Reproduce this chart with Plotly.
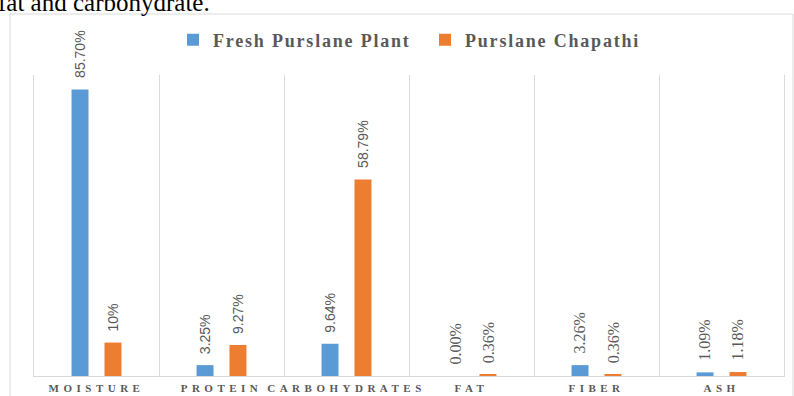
import plotly.graph_objects as go

categories = ["MOISTURE", "PROTEIN", "CARBOHYDRATES", "FAT", "FIBER", "ASH"]
fresh = [85.70, 3.25, 9.64, 0.00, 3.26, 1.09]
chapathi = [10.0, 9.27, 58.79, 0.36, 0.36, 1.18]
fresh_labels = ["85.70%", "3.25%", "9.64%", "0.00%", "3.26%", "1.09%"]
chapathi_labels = ["10%", "9.27%", "58.79%", "0.36%", "0.36%", "1.18%"]
label_serif = [False, False, False, True, True, True]

BLUE = "#5B9BD5"
ORANGE = "#ED7D31"
GRID = "#D9D9D9"
TXT = "#595959"
SERIF = "Liberation Serif, Times New Roman, serif"
SANS = "Liberation Sans, Arial, sans-serif"

fig = go.Figure()
fig.add_trace(go.Bar(name="Fresh Purslane Plant", x=categories, y=fresh,
                     marker=dict(color=BLUE, line=dict(width=0))))
fig.add_trace(go.Bar(name="Purslane Chapathi", x=categories, y=chapathi,
                     marker=dict(color=ORANGE, line=dict(width=0))))

annotations = []
for series, labels, shift in ((fresh, fresh_labels, -16.5), (chapathi, chapathi_labels, 16.5)):
    for cat, v, lab, serif in zip(categories, series, labels, label_serif):
        annotations.append(dict(
            x=cat, y=v, xref="x", yref="y", text=lab, showarrow=False,
            textangle=-90, xanchor="center", yanchor="bottom",
            xshift=shift, yshift=9,
            font=dict(family=SERIF if serif else SANS,
                      size=16 if serif else 14, color=TXT)))

# cropped document text above the chart
annotations.append(dict(
    x=(-4 - 34) / 750, y=(376 - 18) / 301, xref="paper", yref="paper",
    xanchor="left", yanchor="bottom", showarrow=False,
    text="fat and carbohydrate.",
    font=dict(family=SERIF, size=25, color="#000000")))

fig.update_layout(
    width=794, height=396,
    margin=dict(l=34, r=10, t=75, b=20),
    paper_bgcolor="white", plot_bgcolor="white",
    barmode="group", bargap=0.473, bargroupgap=0.485,
    showlegend=True,
    legend=dict(orientation="h", x=(173 - 34) / 750, xanchor="left",
                y=(376 - 40) / 301, yanchor="middle",
                font=dict(family=SERIF, size=18, color=TXT, weight="bold"),
                entrywidth=207, bgcolor="rgba(0,0,0,0)"),
    xaxis=dict(type="category", range=[-0.5, 5.5], showgrid=True, gridcolor=GRID,
               gridwidth=1, tickson="boundaries", ticks="", showline=True,
               linecolor=GRID, linewidth=1, ticklabelstandoff=2, automargin=False,
               tickfont=dict(family=SERIF, size=11, color=TXT, weight="bold")),
    yaxis=dict(range=[0, 90], showgrid=False, zeroline=False, showticklabels=False,
               ticks="", showline=True, mirror=True, linecolor=GRID, linewidth=1,
               automargin=False),
    annotations=annotations,
    shapes=[dict(type="rect", xref="paper", yref="paper",
                 x0=(10 - 34) / 750, x1=(793 - 34) / 750,
                 y0=(376 - 420) / 301, y1=(376 - 14) / 301,
                 line=dict(color=GRID, width=1), fillcolor="rgba(0,0,0,0)", layer="below")],
)

post = """
var gd = document.getElementById('{plot_id}');
function spacing(){
  gd.querySelectorAll('.legendtext').forEach(function(t){t.style.letterSpacing='1.8px';});
  gd.querySelectorAll('.xtick text').forEach(function(t){t.style.letterSpacing='4.5px';});
}
spacing();
gd.on('plotly_afterplot', spacing);
"""

fig.write_html("out.html", post_script=post)
